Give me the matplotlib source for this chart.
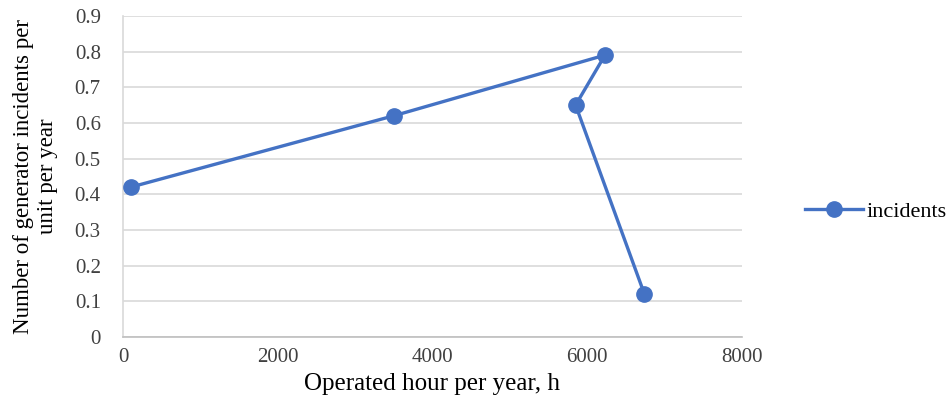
import matplotlib
matplotlib.use("Agg")
import matplotlib.pyplot as plt

# data
hours = [100, 3500, 6230, 5850, 6740]
incidents = [0.42, 0.62, 0.79, 0.65, 0.12]
x_ticks = [0, 2000, 4000, 6000, 8000]
y_ticks = [0, 0.1, 0.2, 0.3, 0.4, 0.5, 0.6, 0.7, 0.8, 0.9]

plt.rcParams["font.family"] = ["Liberation Serif", "DejaVu Serif"]

fig = plt.figure(figsize=(9.49, 4.07), dpi=100)
ax = fig.add_axes([0.1296, 0.172, 0.6522, 0.789])

ax.plot(hours, incidents, color="#4472C4", linewidth=2.4,
        marker="o", markersize=11, label="incidents", clip_on=False, zorder=3)

ax.set_xlim(0, 8000)
ax.set_ylim(0, 0.9)
ax.set_xticks(x_ticks)
ax.set_yticks(y_ticks)
ax.set_yticklabels(["0" if v == 0 else f"{v:.1f}" for v in y_ticks])
ax.tick_params(length=0, labelsize=15, colors="#404040", pad=8)
ax.tick_params(axis="y", pad=16)

ax.grid(axis="y", color="#D9D9D9", linewidth=1.2)
ax.set_axisbelow(True)
for side in ["top", "right"]:
    ax.spines[side].set_visible(False)
ax.spines["left"].set_color("#D9D9D9")
ax.spines["bottom"].set_color("#BFBFBF")
ax.spines["left"].set_linewidth(1.2)
ax.spines["bottom"].set_linewidth(1.2)

ax.set_xlabel("Operated hour per year, h", fontsize=18, labelpad=4)
ax.set_ylabel("Number of generator incidents per\nunit per year", fontsize=16.5,
              labelpad=12, linespacing=1.2)

ax.legend(loc="center left", bbox_to_anchor=(1.07, 0.39), frameon=False,
          fontsize=16, handlelength=2.6, handletextpad=0.15)

fig.savefig("out.png", dpi=100)
